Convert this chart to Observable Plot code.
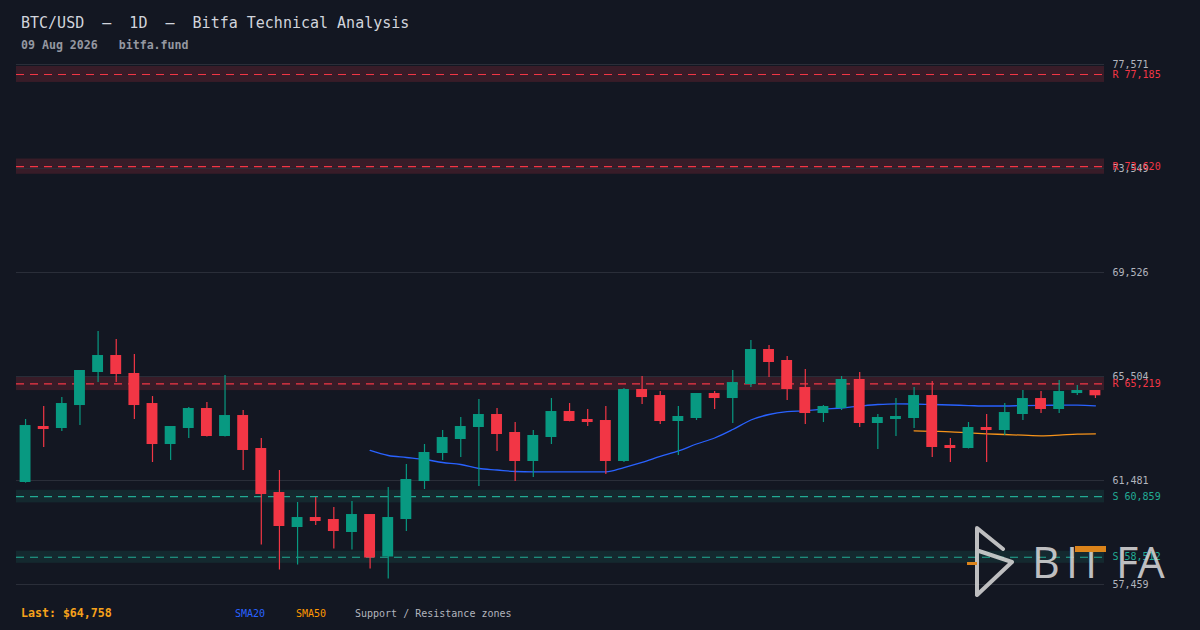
<!DOCTYPE html>
<html><head><meta charset="utf-8">
<script src="https://cdn.jsdelivr.net/npm/d3@7"></script>
<script src="https://cdn.jsdelivr.net/npm/@observablehq/plot@0.6"></script>
<style>
html,body{margin:0;padding:0;background:#131722;}
#wrap{position:relative;width:1200px;height:630px;overflow:hidden;font-family:"DejaVu Sans Mono",monospace;background:#131722;}
#title{position:absolute;left:21px;top:16px;font-size:15px;line-height:15px;color:#d1d4dc;white-space:pre;}
#sub{position:absolute;left:21px;top:39px;font-size:11.6px;line-height:12px;color:#9598a1;font-weight:bold;white-space:pre;}
#chart{position:absolute;left:0;top:0;}
.ft{position:absolute;top:609px;font-size:10px;line-height:10px;white-space:pre;}
#logo{position:absolute;left:0;top:0;pointer-events:none;}
</style></head><body>
<div id="wrap">
  <div id="title">BTC/USD  –  1D  –  Bitfa Technical Analysis</div>
  <div id="sub">09 Aug 2026   bitfa.fund</div>
  <div id="chart"></div>
  <div class="ft" style="left:21px;top:607px;font-size:11.6px;line-height:12px;color:#f7a21b;font-weight:bold;">Last: $64,758</div>
  <div class="ft" style="left:235px;color:#2962ff;">SMA20</div>
  <div class="ft" style="left:296px;color:#ff9800;">SMA50</div>
  <div class="ft" style="left:355px;color:#b2b5be;">Support / Resistance zones</div>
  <svg id="logo" width="1200" height="630">
    <g opacity="0.88" font-family="'Open Sans', Lato, sans-serif" font-weight="400" font-size="43" fill="#d6d6d6" text-anchor="middle">
      <path d="M977,595 L977,528 L1003,549 M979,551 L1012,562 L977,595" fill="none" stroke="#d6d6d6" stroke-width="4" stroke-linejoin="round" stroke-linecap="round"/>
      <rect x="967" y="562" width="10" height="3" fill="#f7931a"/>
      <text x="1046" y="578">B</text>
      <text x="1072" y="578">I</text>
      <text x="1091" y="578">T</text>
      <text x="1127" y="578">F</text>
      <text x="1151" y="578">A</text>
      <rect x="1075" y="546" width="31" height="6" fill="#f7931a"/>
    </g>
  </svg>
</div>
<script>
const opens  = [61404,63531,63492,64381,65658,66277,65581,64420,62873,63492,64227,63183,63956,62680,60978,59663,60011,59934,59470,60127,58522,59973,61442,62526,63067,63531,63995,63299,62216,63144,64111,63802,63763,62216,64962,64729,63763,63879,64807,64652,65193,66509,66084,65039,64072,64265,65349,63686,63840,63879,64729,62796,62719,63492,63415,64034,64613,64227,64845,64923];
const highs  = [63840,64343,64690,65736,67244,66935,66355,64729,63569,64304,64497,65542,64188,63105,61868,60630,60823,60437,60669,60166,61210,62100,62873,63415,63918,64613,64265,63724,63415,64652,64459,64227,64343,65039,65503,64923,64343,64820,64923,65736,66896,66703,66277,65775,64381,65503,65658,64034,64652,65078,65310,63105,63724,64034,64459,64962,64923,65349,65155,64962];
const lows   = [61380,62758,63376,63608,65271,65271,63840,62178,62255,63105,63160,63160,61868,58986,58019,58212,59741,58832,58793,58057,57667,59508,61133,62255,62371,61249,62603,61442,61597,62873,63750,63569,61713,62178,64420,63647,62448,63802,64227,63686,65078,65464,64575,63647,63724,64188,63531,62680,63183,63492,62371,62178,62700,62178,63221,63802,64072,64072,64768,64652];
const closes = [63569,63453,64420,65697,66277,65581,64381,62873,63531,64227,63183,63956,62642,60939,59702,60011,59895,59508,60127,58483,60011,61481,62526,63105,63531,63995,63260,62216,63183,64111,63763,63724,62216,64962,64690,63763,63918,64807,64652,65232,66509,66045,65000,64072,64304,65349,63686,63879,63918,64729,62758,62719,63492,63415,64072,64613,64227,64884,64923,64758];

// SMA values (SMA20 from candle 20, SMA50 from candle 50)
const sma20 = [62642,62448,62371,62294,62178,62100,61945,61888,61829,61818,61818,61818,61818,61818,61984,62178,62410,62623,62893,63125,63453,63821,64034,64142,64177,64239,64285,64358,64420,64447,64440,64420,64401,64381,64362,64362,64381,64389,64393,64393,64370];
const sma50 = [63404,63384,63365,63322,63287,63260,63233,63210,63237,63276,63287];

const resistanceLevels = [77185, 73620, 65219];
const supportLevels = [60859, 58512];
const yTicks = [57459, 61481, 65504, 69526, 73549, 77571];

const RED = "#f23645", GREEN = "#089981", TEAL = "#22ab94";

const candles = opens.map((o, i) => ({i, open: o, high: highs[i], low: lows[i], close: closes[i], up: closes[i] >= o}));
const sma20Data = sma20.map((v, k) => ({i: k + 19, v}));
const sma50Data = sma50.map((v, k) => ({i: k + 49, v}));
const zones = [
  ...resistanceLevels.map(l => ({level: l, kind: "R"})),
  ...supportLevels.map(l => ({level: l, kind: "S"}))
];
const fmt = d3.format(",");

const chart = Plot.plot({
  width: 1200,
  height: 600,
  marginTop: 64,
  marginBottom: 16,
  marginLeft: 16,
  marginRight: 96,
  style: {background: "transparent", fontFamily: "DejaVu Sans Mono, monospace", overflow: "visible"},
  x: {domain: [-0.5, candles.length - 0.5], axis: null},
  y: {domain: [57459, 77571], axis: null},
  marks: [
    Plot.rect(zones, {y1: d => d.level * 0.996, y2: d => d.level * 1.004, fill: d => d.kind === "R" ? RED : TEAL, fillOpacity: d => d.kind === "R" ? 0.17 : 0.12}),
    Plot.ruleY(yTicks, {stroke: "#2a2e39", strokeWidth: 1}),
    Plot.ruleY(zones, {y: "level", stroke: d => d.kind === "R" ? RED : TEAL, strokeWidth: 1.2, strokeDasharray: "8,6"}),
    Plot.line(sma20Data, {x: "i", y: "v", stroke: "#2962ff", strokeWidth: 1.3, curve: "monotone-x"}),
    Plot.line(sma50Data, {x: "i", y: "v", stroke: "#f7931a", strokeWidth: 1.3, curve: "monotone-x"}),
    Plot.ruleX(candles, {x: "i", y1: "low", y2: "high", stroke: d => d.up ? GREEN : RED, strokeWidth: 1.2}),
    Plot.rect(candles, {x1: d => d.i - 0.3, x2: d => d.i + 0.3, y1: d => Math.min(d.open, d.close), y2: d => Math.max(d.open, d.close), fill: d => d.up ? GREEN : RED, insetTop: -1}),
    Plot.axisY(yTicks, {anchor: "right", tickSize: 0, tickPadding: 8, tickFormat: fmt, fontSize: 10, color: "#b2b5be", label: null}),
    Plot.text(zones, {y: "level", frameAnchor: "right", dx: 8, textAnchor: "start", text: d => `${d.kind} ${fmt(d.level)}`, fill: d => d.kind === "R" ? RED : TEAL, fontSize: 10})
  ]
});
document.getElementById("chart").appendChild(chart);
</script>
</body></html>
